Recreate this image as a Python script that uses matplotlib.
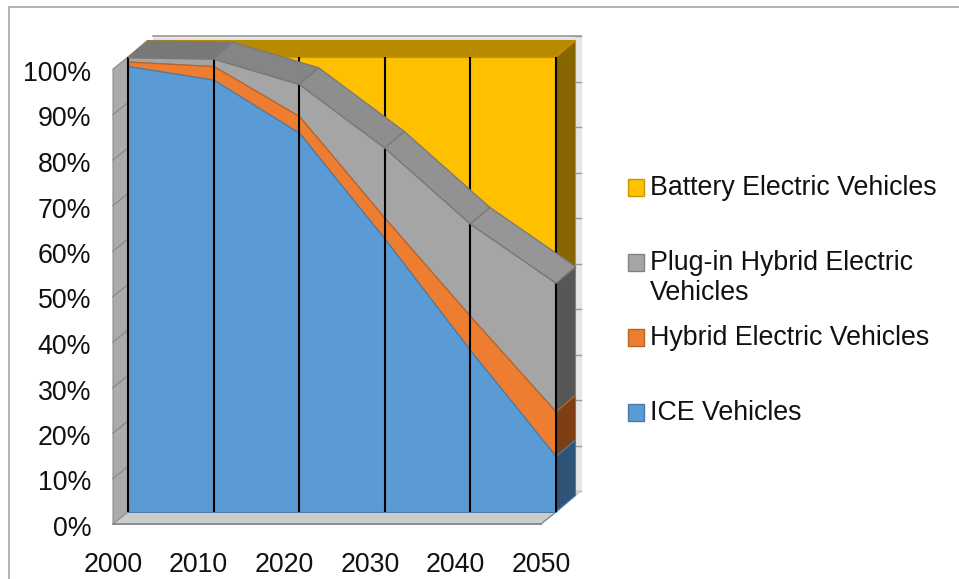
#!/usr/bin/env python3
import matplotlib
matplotlib.use("Agg")
import matplotlib.pyplot as plt
import numpy as np
from matplotlib.patches import Rectangle
from matplotlib.transforms import ScaledTranslation

plt.rcParams['font.family'] = ['Liberation Sans', 'DejaVu Sans']

years = [2000, 2010, 2020, 2030, 2040, 2050]
ice = [98, 95, 83.3, 60, 35.5, 12.2]
hybrid = [1, 3, 3.7, 4.6, 7.5, 9.8]
plugin = [0.9, 1.6, 7, 15.4, 20.3, 28.3]
battery = [0.1, 0.4, 6, 20, 36.7, 49.7]
y_ticks = [0, 10, 20, 30, 40, 50, 60, 70, 80, 90, 100]

names = ["Battery Electric Vehicles", "Plug-in Hybrid Electric\nVehicles",
         "Hybrid Electric Vehicles", "ICE Vehicles"]
front_colors = ["#FFC000", "#A5A5A5", "#ED7D31", "#5B9BD5"]
edge_colors = ["#C99700", "#828282", "#BC6224", "#4A7CAA"]
side_colors = ["#876500", "#575757", "#7F3F14", "#2E5478"]
roof_shades = ["#787878", "#858585", "#8E8E8E", "#929292", "#969696"]
legend_y = [187, 262, 337, 412]

W, H = 959, 579
fig = plt.figure(figsize=(W / 100, H / 100), dpi=100)
ax = fig.add_axes([128 / W, (H - 512) / H, 428 / W, 455 / H])
ax.set_xlim(2000, 2050)
ax.set_ylim(0, 100)
ax.patch.set_visible(False)
for s in ax.spines.values():
    s.set_visible(False)


# pixel offsets of the fake 3D box, turned into data units
def ox(px):
    return px * 50 / 428


def oy(px):
    return px * 100 / 455


def poly(xs, ys, color, edge=None, z=1, lw=0.8):
    ax.fill(xs, ys, facecolor=color, edgecolor=edge or color, linewidth=lw,
            zorder=z, clip_on=False)


# chart frame, runs off the top right of the image
fig.add_artist(Rectangle((9 / W, -0.1), 1.2, 1.1 - 7 / H, fill=False,
                         edgecolor="#A6A6A6", linewidth=1.2,
                         transform=fig.transFigure))

# back wall, only a thin strip of it shows
wx, wy = ox(25), oy(21)
poly([2000 + wx, 2050 + wx, 2050 + wx, 2000 + wx],
     [wy, wy, 100 + wy, 100 + wy], "#E6E6E6", "#E6E6E6", z=1)
ax.plot([2000 + wx, 2050 + wx], [100 + wy, 100 + wy], color="#9A9A9A", lw=1.2,
        zorder=1.2, clip_on=False)
for t in y_ticks:
    ax.plot([2050 + ox(19), 2050 + wx], [t + wy, t + wy], color="#9A9A9A", lw=1,
            zorder=1.1, clip_on=False)

# floor
fx, fy = ox(-15), oy(-12)
poly([2000 + fx, 2050 + fx, 2050, 2050 + wx, 2000 + wx, 2000],
     [fy, fy, 0, wy, wy, 0], "#CBCCCC", z=1.5)
ax.plot([2000 + fx, 2050 + fx], [fy, fy], color="#8C8C8C", lw=1.4, zorder=1.6,
        clip_on=False)
ax.plot([2050 + fx, 2050], [fy, 0], color="#8C8C8C", lw=1, zorder=1.6, clip_on=False)

# left wall
poly([2000 + fx, 2000, 2000, 2000 + fx], [fy, 0, 100, 100 + fy], "#ABABAB", "#8C8C8C", z=2)
for t in y_ticks[1:-1]:
    ax.plot([2000 + fx, 2000], [t + fy, t], color="#8C8C8C", lw=1, zorder=2.1, clip_on=False)

# stack tops, bottom to top
bands = np.array([ice, hybrid, plugin, battery])
tops = np.cumsum(bands, axis=0)
bottoms = tops - bands
dx, dy = ox(19.5), oy(16.5)

# roof of the battery band
poly([2000, 2000 + dx, 2050 + dx, 2050], [100, 100 + dy, 100 + dy, 100], "#B88A00", z=3)

# right hand side of the stack
for i, band in enumerate([3, 2, 1, 0]):
    lo, hi = bottoms[band][-1], tops[band][-1]
    poly([2050, 2050 + dx, 2050 + dx, 2050], [lo, lo + dy, hi + dy, hi],
         side_colors[i], edge_colors[i], z=3.2)

# front faces
for i, band in enumerate([3, 2, 1, 0]):
    ax.fill_between(years, bottoms[band], tops[band], facecolor=front_colors[i],
                    edgecolor=edge_colors[i], linewidth=0.9, zorder=4)

ax.vlines(years, 0, 100, color="black", linewidth=1.5, zorder=5, clip_on=False)

# sloped roof of the plug-in band hides the gridlines behind it
roof = tops[2]
for k in range(len(years) - 1):
    x0, x1 = years[k], years[k + 1]
    poly([x0, x1, x1 + dx, x0 + dx],
         [roof[k], roof[k + 1], roof[k + 1] + dy, roof[k] + dy],
         roof_shades[k], "#7A7A7A", z=6, lw=1)

# ticks, nudged to sit on the outer corner of the box
ax.set_xticks(years)
ax.set_yticks(y_ticks)
ax.set_yticklabels([f"{t}%" for t in y_ticks])
ax.tick_params(axis="both", length=0, labelsize=19.3, labelcolor="#111111")
ax.tick_params(axis="x", pad=28.5)
ax.tick_params(axis="y", pad=26.5)
for lab in ax.get_xticklabels():
    lab.set_transform(lab.get_transform() + ScaledTranslation(-15 / 100, 0, fig.dpi_scale_trans))
for lab in ax.get_yticklabels():
    lab.set_transform(lab.get_transform() + ScaledTranslation(0, -14 / 100, fig.dpi_scale_trans))

# legend
for name, col, edge, y in zip(names, front_colors, edge_colors, legend_y):
    fig.add_artist(Rectangle((627.5 / W, 1 - (y + 8.5) / H), 16.5 / W, 16.5 / H,
                             facecolor=col, edgecolor=edge, linewidth=1,
                             transform=fig.transFigure))
    fig.text(650 / W, 1 - (y + 1) / H, name.split("\n")[0], fontsize=19.3, va="center",
             ha="left", color="#111111")
    if "\n" in name:
        fig.text(650 / W, 1 - (y + 31) / H, name.split("\n")[1], fontsize=19.3,
                 va="center", ha="left", color="#111111")

fig.savefig("out.png", dpi=100)
